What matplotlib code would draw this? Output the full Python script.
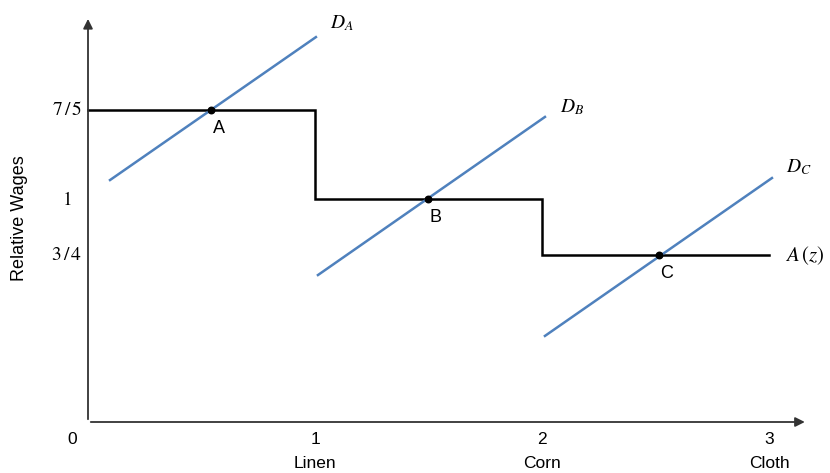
import matplotlib
matplotlib.use("Agg")
from matplotlib import pyplot as plt

plt.rcParams['mathtext.fontset'] = 'stix'

# step curve A(z)
step_x = [0, 1, 1, 2, 2, 3]
step_y = [1.4, 1.4, 1.0, 1.0, 0.75, 0.75]

# demand lines (two end points each)
da_x = [0.097, 1.004]
da_y = [1.085, 1.726]
db_x = [1.013, 2.013]
db_y = [0.659, 1.368]
dc_x = [2.013, 3.013]
dc_y = [0.386, 1.094]

# equilibrium points
pt_names = ['A', 'B', 'C']
pt_x = [0.542, 1.498, 2.515]
pt_y = [1.4, 1.0, 0.75]

ytick_vals = [1.4, 1.0, 0.75]
ytick_labels = [r'$7\,/\,5$', '$1$', r'$3\,/\,4$']
xtick_vals = [0, 1, 2, 3]
xtick_labels = ['0', '1', '2', '3']
goods = ['', 'Linen', 'Corn', 'Cloth']

blue = '#4F81BD'
sans = ['Liberation Sans', 'DejaVu Sans']

fig = plt.figure(figsize=(8.3, 4.73), dpi=100)
ax = fig.add_axes([0, 0, 1, 1])
ax.set_xlim(-88 / 227, (830 - 88) / 227)
ax.set_ylim((422 - 473) / 223, 422 / 223)
ax.axis('off')

# axes with arrows
ax.annotate('', xy=(3.17, 0), xytext=(0, 0),
            arrowprops=dict(arrowstyle='-|>', color='#333333', lw=1.3, mutation_scale=14))
ax.annotate('', xy=(0, 1.82), xytext=(0, 0),
            arrowprops=dict(arrowstyle='-|>', color='#333333', lw=1.3, mutation_scale=14))

ax.plot(step_x, step_y, color='black', lw=1.8, solid_joinstyle='miter')
for lx, ly in [(da_x, da_y), (db_x, db_y), (dc_x, dc_y)]:
    ax.plot(lx, ly, color=blue, lw=1.8)
ax.scatter(pt_x, pt_y, s=22, color='black', zorder=5)

for n, px, py in zip(pt_names, pt_x, pt_y):
    ax.text(px + 0.035, py - 0.085, n, fontsize=13, ha='center', va='center',
            family=sans)

ax.text(1.066, 1.79, '$D_A$', fontsize=14, ha='left', va='center')
ax.text(2.08, 1.41, '$D_B$', fontsize=14, ha='left', va='center')
ax.text(3.075, 1.145, '$D_C$', fontsize=14, ha='left', va='center')
ax.text(3.07, 0.745, r'$A\,(z)$', fontsize=15, ha='left', va='center')

for v, lab in zip(ytick_vals, ytick_labels):
    ax.text(-0.093, v, lab, fontsize=14, ha='center', va='center')

for v, lab, g in zip(xtick_vals, xtick_labels, goods):
    xx = v if v > 0 else -0.07
    ax.text(xx, -0.078, lab, fontsize=12.5, ha='center', va='center', family=sans)
    if g:
        ax.text(v, -0.185, g, fontsize=12.5, ha='center', va='center', family=sans)

ax.text(-0.30, 0.915, 'Relative Wages', fontsize=13, rotation=90,
        ha='center', va='center', family=sans)

plt.savefig('out.png', dpi=100)
